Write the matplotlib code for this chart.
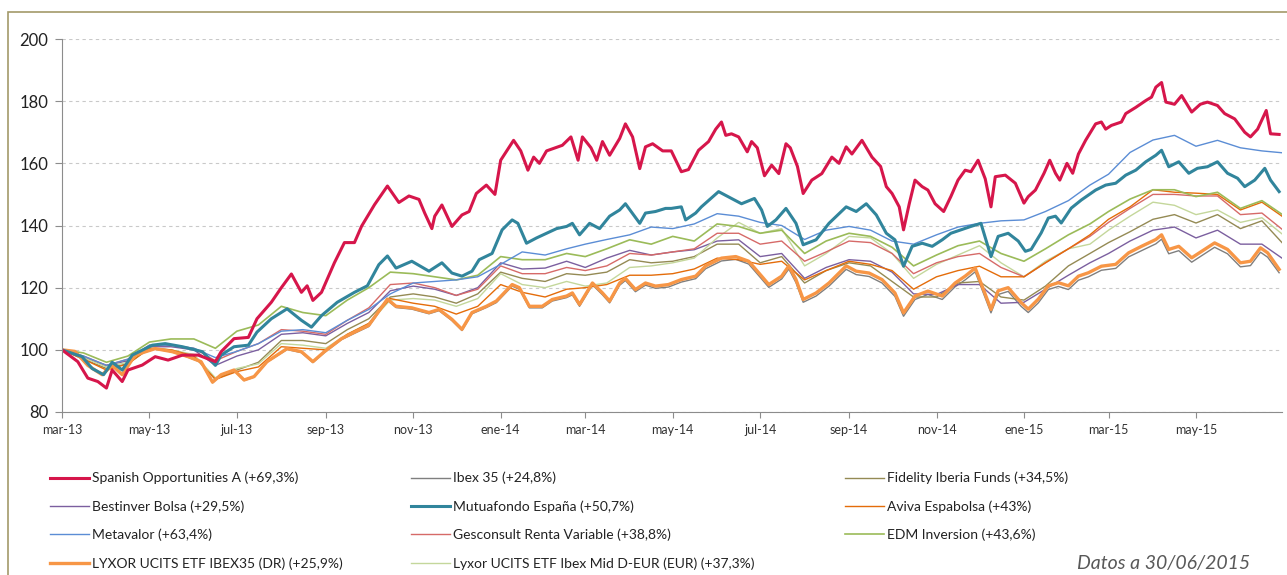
import pandas as pd
import matplotlib
matplotlib.use('Agg')
import matplotlib.pyplot as plt
from matplotlib.patches import Rectangle

plt.rcParams['font.family'] = ['Lato', 'DejaVu Sans']

inicio = pd.Timestamp('2013-03-01')

# fechas quincenales (1 y 16 de cada mes) + cierre 30/06/2015
meses = [(2013, m) for m in range(3, 13)] + [(2014, m) for m in range(1, 13)] + [(2015, m) for m in range(1, 7)]
fechas = [pd.Timestamp(y, m, d) for y, m in meses for d in (1, 16)] + [pd.Timestamp(2015, 6, 30)]

# Spanish Opportunities, Mutuafondo, Lyxor Ibex35 e Ibex leidos con mas detalle (dias desde 01/03/2013)
spanish_dias = [0, 11, 18, 25, 31, 35, 42, 46, 56, 65, 74, 84, 95, 107, 111, 120, 130, 136, 146, 153,
                160, 167, 171, 175, 181, 190, 197, 204, 209, 218, 227, 235, 242, 249, 253, 258, 260, 265, 272, 279,
                284, 289, 296, 302, 306, 315, 320, 325, 329, 333, 338, 349, 355, 360, 363, 369, 373, 377, 382, 389,
                393, 398, 403, 407, 412, 419, 425, 432, 437, 444, 451, 456, 460, 463, 467, 472, 478, 481, 485, 490,
                495, 500, 505, 508, 513, 517, 523, 530, 537, 542, 547, 551, 558, 565, 571, 575, 579, 584, 587, 591,
                595, 600, 604, 609, 615, 620, 625, 630, 634, 639, 644, 648, 651, 658, 665, 671, 674, 679, 685, 689,
                693, 696, 701, 705, 709, 714, 721, 725, 728, 732, 739, 742, 749, 756, 760, 763, 767, 770, 776, 781,
                788, 794, 799, 806, 811, 818, 825, 829, 834, 840, 843, 849]
spanish_opp = [100, 96.2, 90.9, 89.8, 87.7, 93.5, 89.8, 93.5, 95.1, 97.8, 96.7, 98.3, 98.3, 96.2, 99.4, 103.6, 104, 110, 115.3, 120,
               124.4, 118.5, 120.6, 115.9, 118.5, 128, 134.5, 134.5, 139.8, 146.7, 152.7, 147.4, 149.5, 148.4, 144, 139, 143, 146.6, 139.7, 143.4,
               144.5, 150.3, 153, 150, 161, 167.4, 164, 157.8, 162, 160, 164, 165.8, 168.5, 161, 168.5, 165, 161, 167, 162.6, 168,
               172.7, 168.5, 158.3, 165.3, 166.3, 164, 164, 157.3, 158, 164.2, 167, 171, 173.3, 169, 169.5, 168.5, 163.7, 167, 165, 156,
               159.4, 156.7, 166.3, 165, 159, 150.3, 154.6, 156.7, 162, 160, 165.3, 163, 167.4, 162, 159, 152.5, 150.3, 146, 138.6, 147,
               154.6, 152.5, 151.4, 147, 144.5, 149.3, 154.6, 157.8, 157.3, 161, 155, 146, 155.7, 156.2, 153.6, 147.2, 149.3, 151.4, 156.8, 161,
               156.8, 154.6, 160, 156.8, 163, 167.4, 172.7, 173.3, 171, 172.2, 173.3, 176, 178, 180.2, 181.3, 184.5, 186, 179.7, 179, 181.8,
               176.5, 179, 179.7, 178.6, 176, 174.3, 170, 168.5, 171, 177, 169.5, 169.3]
mutua_dias = [0, 14, 21, 29, 35, 42, 49, 63, 72, 84, 98, 107, 111, 120, 130, 136, 146, 157, 167, 174,
              181, 192, 204, 213, 221, 227, 233, 244, 256, 265, 272, 279, 286, 291, 300, 307, 314, 318, 324, 331,
              338, 345, 352, 356, 361, 368, 375, 382, 389, 393, 403, 407, 414, 421, 425, 432, 435, 442, 446, 458,
              467, 474, 483, 488, 492, 498, 505, 512, 517, 526, 535, 547, 554, 561, 568, 575, 581, 587, 593, 600,
              607, 614, 620, 627, 634, 641, 648, 653, 660, 667, 672, 676, 683, 688, 693, 697, 704, 711, 721, 728,
              735, 742, 749, 756, 763, 767, 772, 779, 786, 792, 799, 806, 813, 820, 825, 832, 839, 843, 849]
mutuafondo = [100, 97.8, 94, 92, 96, 93.5, 98.3, 101.5, 102, 101, 99.4, 95, 98.3, 101, 101.5, 105.7, 110, 113.2, 109.5, 107.3,
              111, 115.3, 118.5, 120.6, 127.4, 130.2, 126.3, 128.5, 125.3, 128, 124.7, 123.7, 125.3, 129, 131, 138.6, 141.8, 140.7, 134.3, 136,
              137.5, 139, 139.7, 140.7, 137, 140.7, 139, 143, 145, 147, 140.7, 144, 144.5, 145.5, 145.5, 146, 141.8, 144, 146, 150.9,
              148.7, 147, 148.7, 145, 139.7, 141.8, 145.5, 140.7, 133.8, 135.4, 140.7, 146, 144.5, 147, 143.4, 137.5, 135.4, 126.9, 133.3, 134.3,
              133.3, 135.4, 137.5, 138.6, 139.7, 140.7, 130, 136.5, 137.5, 135, 131.7, 132.3, 137.6, 142.4, 143, 140.8, 145.6, 148.2, 151.4, 153,
              153.6, 156.2, 157.8, 160.5, 162.6, 164.2, 158.9, 160.5, 156.8, 158.4, 158.9, 160.5, 156.8, 155.2, 152.5, 154.6, 158.4, 154.6, 150.9]
ibex_dias = [0, 9, 18, 28, 35, 42, 51, 65, 77, 88, 97, 105, 111, 120, 127, 134, 143, 157, 167, 175,
             183, 195, 204, 214, 227, 233, 244, 256, 263, 272, 279, 286, 296, 303, 314, 319, 326, 335, 342, 352,
             356, 361, 370, 377, 382, 389, 393, 400, 407, 414, 423, 432, 442, 449, 460, 470, 479, 488, 493, 502,
             507, 512, 517, 526, 535, 547, 554, 563, 572, 581, 587, 595, 604, 614, 623, 630, 637, 641, 648, 653,
             660, 669, 674, 681, 688, 695, 702, 709, 716, 725, 735, 744, 753, 763, 767, 772, 779, 788, 795, 804,
             813, 822, 829, 836, 841, 849]
lyxor_ibex35 = [100, 99.5, 95, 92, 95, 92, 98.3, 100.4, 99.4, 97.8, 96.2, 89.6, 92, 93.5, 90.3, 91.4, 96.2, 100.4, 99.4, 96.2,
                99.4, 103.6, 105.7, 107.9, 116.3, 114, 113.5, 112, 113, 109.8, 106.6, 112, 114, 115.7, 121, 120, 114, 114, 116.2, 117.3,
                118.3, 114.6, 121.5, 118.3, 115.7, 121.5, 123, 119.4, 121.5, 120.5, 121, 122.6, 123.7, 127, 129.5, 130, 128.5, 123.7, 121, 123.7,
                127, 122.6, 116.2, 118.3, 121.5, 127, 125.3, 124.7, 122.6, 118.3, 111.9, 117.3, 118.9, 117.3, 121.5, 123.7, 126.3, 121.5, 113, 119,
                120, 115.2, 113.1, 116.3, 120.6, 121.6, 120.6, 123.7, 124.8, 126.9, 127.5, 131.2, 133.3, 135.5, 137, 132.3, 133.3, 129.6, 131.7, 134.4,
                132.3, 128, 128.5, 132.8, 131.2, 125.9]
ibex35 = [100, 99.5, 95, 92, 95, 92, 98.2, 100.3, 99.3, 97.6, 96, 89.4, 91.8, 93.3, 90.1, 91.2, 96, 100.1, 99.1, 95.9,
          99.1, 103.3, 105.3, 107.5, 115.9, 113.6, 113.1, 111.6, 112.6, 109.4, 106.2, 111.6, 113.6, 115.2, 120.5, 119.5, 113.5, 113.5, 115.7, 116.8,
          117.7, 114, 120.9, 117.7, 115.1, 120.8, 122.3, 118.7, 120.8, 119.8, 120.2, 121.8, 122.9, 126.1, 128.6, 129.1, 127.6, 122.8, 120.1, 122.8,
          126, 121.6, 115.3, 117.3, 120.5, 125.9, 124.2, 123.6, 121.5, 117.2, 110.8, 116.2, 117.8, 116.2, 120.3, 122.5, 125.1, 120.3, 111.9, 117.8,
          118.8, 114, 112, 115.1, 119.4, 120.4, 119.4, 122.4, 123.5, 125.6, 126.2, 129.9, 131.9, 134.1, 135.6, 130.9, 131.9, 128.2, 130.3, 133,
          130.9, 126.7, 127.1, 131.4, 129.8, 124.8]

# resto de fondos, valores quincenales (base 100)
fidelity = [100, 97, 94, 95.5, 100.5, 100, 98, 90.5, 93.5, 96, 103, 103, 102, 106.5, 110, 117, 118, 117, 115, 118,
            125, 123, 122, 124.5, 124, 125, 129, 128, 128.5, 130, 134, 134, 128, 130, 121.5, 125.5, 128, 127,
            122, 117, 117, 121.5, 122, 117,
            116, 120.5, 127, 131, 134.5, 138, 142, 143.5, 140.8, 143.5, 139, 141.5, 134.5]
bestinver = [100, 97.5, 95, 96.5, 101, 101, 100, 95, 98, 100, 105, 105.5, 104.5, 108.5, 112, 119, 120.5, 119.5, 117.5, 120,
             128, 126, 126.3, 128.5, 126.5, 129.5, 132, 130.5, 131.5, 132.2, 135, 135.4, 130, 131, 123, 126.5, 129, 128.5,
             125, 118, 117.8, 121, 121, 115,
             115.3, 119.5, 124, 128, 131, 135, 138.5, 139.5, 136, 138.5, 134, 134, 129.5]
aviva = [100, 97, 93.5, 95.5, 100.5, 100, 98, 90.5, 93, 94.5, 101, 100.5, 100, 105, 108.5, 116.5, 115, 114, 111.5, 114,
         121, 118.5, 117, 119.5, 120, 121, 124, 124, 124.5, 126, 129.5, 129, 127.5, 128.5, 122.5, 125.5, 128.5, 127.5,
         125.5, 119.5, 123.5, 125.5, 126.9, 123.5,
         123.5, 128, 132.5, 137, 142, 146, 151.5, 150.7, 150.4, 150, 145, 147.5, 143]
metavalor = [100, 98, 95, 97, 101.5, 101.5, 100.5, 97.5, 99.5, 102, 106, 106.5, 105.5, 109.5, 113, 118, 121.5, 122, 122.5, 123.5,
             127.5, 131.5, 130.5, 132.5, 134, 135.5, 137, 139.5, 139, 140.5, 143.8, 143, 141, 140, 135.5, 138.5,
             139.7, 138.5, 135, 134, 137, 139.5, 140.7, 141.5,
             141.8, 144.5, 148, 153, 156.5, 163.5, 167.5, 169, 165.5, 167.4, 165, 164, 163.4]
gesconsult = [100, 98, 95, 97, 101.5, 101.5, 100.5, 96.5, 99.5, 102, 106.5, 106, 105, 109.5, 113.5, 121, 121.5, 120, 117.5, 119.5,
              127, 124.5, 124.5, 126.5, 125.5, 127, 131, 130.5, 131.5, 132.5, 137.5, 137.5, 134, 135, 128.5, 131.5,
              135, 134.5, 131, 124.5, 128, 130, 131, 126.5,
              123.5, 128, 132.5, 136.5, 141, 145.5, 150, 150, 149.5, 149.5, 143.5, 144, 138.8]
edm = [100, 99, 96, 98, 102.5, 103.5, 103.5, 100.5, 106, 108, 114, 112, 111, 116, 120, 125, 124.5, 123.5, 122.5, 124,
       130, 129, 129, 131, 130, 132.5, 135.4, 134, 136.5, 135, 140.5, 139.7, 137.5, 138.5, 131, 135, 137.5, 136.5,
       133, 127, 130.5, 133.5, 135, 131,
       128.5, 132.5, 137, 140.5, 144.5, 148.5, 151.5, 151.5, 149.3, 150.7, 145.5, 148, 143.6]
lyxor_mid = [100, 97.5, 94.5, 96, 100.5, 100, 98.5, 91, 94, 95.5, 102, 101.5, 100.5, 105, 108.5, 116, 116.5, 116, 114, 116.5,
             124.5, 121, 120, 122, 120.5, 121.5, 126.5, 127, 128, 129.5, 136, 141, 137.5, 139, 127, 131, 136.5, 136,
             131, 123, 127.5, 130.5, 133.5, 128,
             123.5, 128.5, 132.5, 134, 138.5, 143, 147.5, 146.5, 143.5, 145, 141, 142.5, 137.3]

tick_fechas = pd.date_range('2013-03-01', '2015-05-01', freq='2MS')
tick_labels = ['mar-13', 'may-13', 'jul-13', 'sep-13', 'nov-13', 'ene-14', 'mar-14',
               'may-14', 'jul-14', 'sep-14', 'nov-14', 'ene-15', 'mar-15', 'may-15']

spanish_fechas = inicio + pd.to_timedelta(spanish_dias, unit='D')
mutua_fechas = inicio + pd.to_timedelta(mutua_dias, unit='D')
ibex_fechas = inicio + pd.to_timedelta(ibex_dias, unit='D')

# (etiqueta, x, datos, color, grosor) en orden de dibujo
series = [
    ('Ibex 35 (+24,8%)', ibex_fechas, ibex35, '#7F7F7F', 1.0),
    ('Fidelity Iberia Funds (+34,5%)', fechas, fidelity, '#948A54', 1.0),
    ('Bestinver Bolsa (+29,5%)', fechas, bestinver, '#7B5F9F', 1.0),
    ('Lyxor UCITS ETF Ibex Mid D-EUR (EUR) (+37,3%)', fechas, lyxor_mid, '#C4D79B', 1.0),
    ('Gesconsult Renta Variable (+38,8%)', fechas, gesconsult, '#D66A68', 1.0),
    ('Aviva Espabolsa (+43%)', fechas, aviva, '#E46C0A', 1.0),
    ('EDM Inversion (+43,6%)', fechas, edm, '#9BBB59', 1.2),
    ('Metavalor (+63,4%)', fechas, metavalor, '#5B8DD5', 1.0),
    ('LYXOR UCITS ETF IBEX35 (DR) (+25,9%)', ibex_fechas, lyxor_ibex35, '#F79646', 2.4),
    ('Mutuafondo España (+50,7%)', mutua_fechas, mutuafondo, '#31859C', 2.2),
    ('Spanish Opportunities A (+69,3%)', spanish_fechas, spanish_opp, '#D6164B', 2.2),
]

fig = plt.figure(figsize=(12.87, 5.75), dpi=100)
ax = fig.add_axes([62 / 1287, 1 - 412 / 575, (1282 - 62) / 1287, (412 - 39) / 575])

lines = {}
for label, xs, vals, color, lw in series:
    ln, = ax.plot(xs, vals, color=color, lw=lw, label=label, solid_joinstyle='round')
    lines[label] = ln

ax.set_xlim(inicio, pd.Timestamp('2015-06-30'))
ax.set_ylim(80, 200)
ax.set_yticks(range(80, 201, 20))
ax.set_xticks(tick_fechas)
ax.set_xticklabels(tick_labels)
ax.yaxis.grid(True, ls=(0, (3, 3)), color='#C9C9C9', lw=0.8)
ax.set_axisbelow(True)
for s in ['top', 'right']:
    ax.spines[s].set_visible(False)
for s in ['left', 'bottom']:
    ax.spines[s].set_color('#8C8C8C')
ax.tick_params(axis='y', length=5, color='#8C8C8C', labelsize=12, pad=5, labelcolor='#222222')
ax.tick_params(axis='x', length=4, color='#8C8C8C', labelsize=9, pad=5, labelcolor='#333333')

# marco exterior
fig.patches.append(Rectangle((8 / 1287, -0.1), 1.2, 1.1 - 12 / 575, transform=fig.transFigure,
                             fill=False, edgecolor='#A39A6A', lw=1.2))

# leyenda en tres columnas
columnas = [
    (43, ['Spanish Opportunities A (+69,3%)', 'Bestinver Bolsa (+29,5%)', 'Metavalor (+63,4%)',
          'LYXOR UCITS ETF IBEX35 (DR) (+25,9%)']),
    (404, ['Ibex 35 (+24,8%)', 'Mutuafondo España (+50,7%)', 'Gesconsult Renta Variable (+38,8%)',
           'Lyxor UCITS ETF Ibex Mid D-EUR (EUR) (+37,3%)']),
    (838, ['Fidelity Iberia Funds (+34,5%)', 'Aviva Espabolsa (+43%)', 'EDM Inversion (+43,6%)']),
]
for x0, labels in columnas:
    fig.legend([lines[l] for l in labels], labels, loc='upper left',
               bbox_to_anchor=(x0 / 1287, 1 - 465 / 575), frameon=False, borderpad=0,
               handlelength=2.8, handletextpad=0.2, labelspacing=1.14, fontsize=10,
               labelcolor='#222222')

fig.text(1250 / 1287, 1 - 563 / 575, 'Datos a 30/06/2015', ha='right', va='center',
         fontsize=14, style='italic', color='#595959')

fig.savefig('out.png', dpi=100)
